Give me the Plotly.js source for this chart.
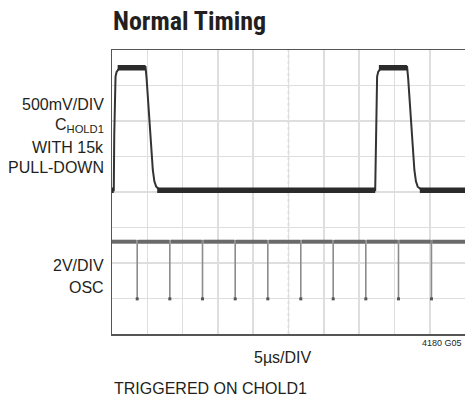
<!DOCTYPE html>
<html>
<head>
<meta charset="utf-8">
<script src="https://cdn.plot.ly/plotly-3.0.1.min.js"></script>
<style>
  html, body { margin: 0; padding: 0; background: #ffffff; }
  #chart { width: 465px; height: 400px; }
</style>
</head>
<body>
<div id="chart"></div>
<script>
// ---- Data (x in microseconds, 5 µs/div; y in screen divisions, 0..8) ----
var choldTime  = [0, 0.25, 0.32, 0.4, 0.5, 0.65, 0.9, 1.3, 4.75, 4.9, 5.1, 5.31, 5.55, 5.78, 6.0, 6.26, 6.73, 7.2,
                  37.28, 37.36, 37.45, 37.55, 37.7, 37.95, 38.35, 41.8, 41.95, 42.15, 42.36, 42.6, 42.83, 43.05, 43.3, 43.8, 44.3, 50];
var choldLevel = [4.05, 4.05, 5.6, 6.9, 7.25, 7.38, 7.45, 7.5, 7.52, 7.2, 6.6, 6.1, 5.3, 4.62, 4.3, 4.15, 4.07, 4.05,
                  4.05, 5.6, 6.9, 7.25, 7.38, 7.45, 7.5, 7.52, 7.2, 6.6, 6.1, 5.3, 4.62, 4.3, 4.15, 4.07, 4.05, 4.05];
// flat (noisy, thicker) parts of the CHOLD1 trace
var choldFlatStart = [0, 0.8, 6.4, 37.8, 43.6];
var choldFlatEnd   = [0.25, 4.75, 37.28, 41.8, 50];
var choldFlatLevel = [4.05, 7.5, 4.05, 7.5, 4.05];

var oscSpikeTimes = [3.57, 8.19, 12.82, 17.45, 22.07, 26.74, 31.33, 35.95, 40.58, 45.25];
var oscHigh = 2.6;
var oscLow  = 0.99;

// ---- Build traces from the data ----
var baseX = [], baseY = [];
var spikeX = [], spikeY = [];
var prev = 0;
oscSpikeTimes.forEach(function (t) {
  baseX.push(prev, t - 0.08, null);
  baseY.push(oscHigh, oscHigh, null);
  prev = t + 0.1;
  spikeX.push(t, t, null);
  spikeY.push(oscHigh + 0.05, oscLow, null);
});
baseX.push(prev, 50);
baseY.push(oscHigh, oscHigh);

var flatX = [], flatY = [];
choldFlatStart.forEach(function (s, i) {
  flatX.push(s, choldFlatEnd[i], null);
  flatY.push(choldFlatLevel[i], choldFlatLevel[i], null);
});

var traces = [
  { x: baseX, y: baseY, mode: 'lines', line: { color: '#6a6a6a', width: 4 }, hoverinfo: 'skip', connectgaps: false },
  { x: spikeX, y: spikeY, mode: 'lines', line: { color: '#8c8c8c', width: 1.6 }, hoverinfo: 'skip', connectgaps: false },
  { x: oscSpikeTimes, y: oscSpikeTimes.map(function () { return oscLow; }), mode: 'markers',
    marker: { symbol: 'square', size: 3, color: '#555555' }, hoverinfo: 'skip' },
  { x: choldTime, y: choldLevel, mode: 'lines', line: { color: '#333333', width: 2 }, hoverinfo: 'skip' },
  { x: flatX, y: flatY, mode: 'lines', line: { color: '#2b2b2b', width: 5.5 }, hoverinfo: 'skip', connectgaps: false }
];

// pixel -> paper helpers for text placement
var L = 112, T = 50, PW = 353, PH = 284;
function px(x) { return (x - L) / PW; }
function py(y) { return (T + PH - y) / PH; }

var labelFont = { family: 'Liberation Sans, Arial, sans-serif', size: 16, color: '#231f20' };
function lab(text, x, y, anchor, font) {
  return { text: text, xref: 'paper', yref: 'paper', x: px(x), y: py(y), xanchor: anchor || 'right',
           yanchor: 'middle', showarrow: false, font: font || labelFont };
}

var layout = {
  width: 465, height: 400,
  margin: { l: L, r: 465 - L - PW, t: T, b: 400 - T - PH, pad: 0 },
  paper_bgcolor: '#ffffff', plot_bgcolor: '#ffffff',
  showlegend: false,
  title: { text: 'Normal Timing', xref: 'container', yref: 'container', x: 113 / 465, xanchor: 'left',
           y: 1 - 21 / 400, yanchor: 'middle',
           font: { family: 'Liberation Sans Narrow, Roboto Condensed, DejaVu Sans Condensed, sans-serif', size: 26, weight: 700, color: '#231f20' } },
  xaxis: { range: [0, 50], dtick: 5, tick0: 0, showgrid: true, gridcolor: '#dedede', gridwidth: 1.6,
           zeroline: false, showticklabels: false, ticks: '', showline: true, linecolor: '#555555', linewidth: 1.5, mirror: true, fixedrange: true },
  yaxis: { range: [0, 8], dtick: 1, tick0: 0, showgrid: true, gridcolor: '#dedede', gridwidth: 1.6,
           zeroline: false, showticklabels: false, ticks: '', showline: true, linecolor: '#555555', linewidth: 1.5, mirror: true, fixedrange: true },
  shapes: [
    { type: 'line', xref: 'x', yref: 'paper', x0: 25, x1: 25, y0: 0, y1: 1, line: { color: '#c4c4c4', width: 1.5, dash: 'dot' }, layer: 'below' },
    { type: 'line', xref: 'paper', yref: 'y', x0: 0, x1: 1, y0: 4, y1: 4, line: { color: '#c4c4c4', width: 1.5, dash: 'dot' }, layer: 'below' }
  ],
  annotations: [
    lab('500mV/DIV', 106, 104),
    lab('C<sub>HOLD1</sub>', 106, 125),
    lab('WITH 15k', 106, 147),
    lab('PULL-DOWN', 106, 167),
    lab('2V/DIV', 106, 265),
    lab('OSC', 106, 287),
    lab('5µs/DIV', 283, 358, 'center'),
    lab('TRIGGERED ON CHOLD1', 112, 388, 'left'),
    lab('4180 G05', 464, 343, 'right', { family: 'Liberation Sans, Arial, sans-serif', size: 9, color: '#231f20' })
  ]
};

Plotly.newPlot('chart', traces, layout, { staticPlot: true, displayModeBar: false });
</script>
</body>
</html>
